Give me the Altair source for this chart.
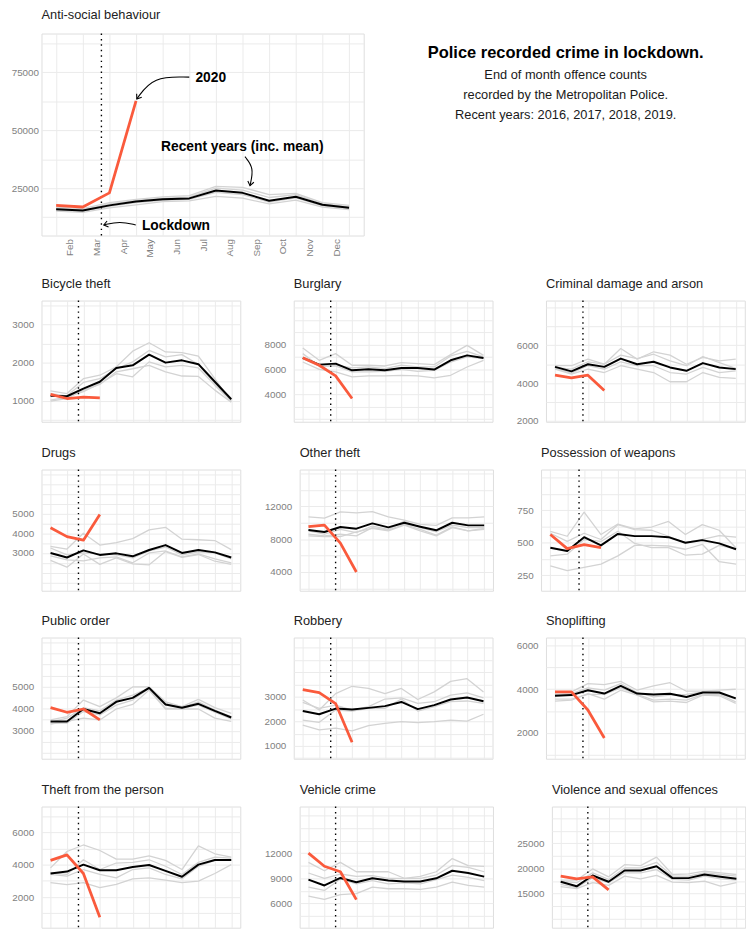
import altair as alt
import pandas as pd
import numpy as np

FONT = "Liberation Sans"
GRID = "#EBEBEB"
LABEL_COL = "#7F7F7F"

MONTHS = ["Feb", "Mar", "Apr", "May", "Jun", "Jul", "Aug", "Sep", "Oct", "Nov", "Dec"]
YEARS = ["2016", "2017", "2018", "2019"]
LOCKDOWN = 1.7  # 23 March, between end-of-Feb and end-of-Mar points

TITLE_LINES = ["Police recorded crime in lockdown.",
               "End of month offence counts",
               "recorded by the Metropolitan Police.",
               "Recent years: 2016, 2017, 2018, 2019."]

# ---------------- data (end-of-month counts, Jan..Dec) ----------------
asb_2020 = [17600, 16900, 23000, 62700]
asb_mean = [15900, 15400, 17600, 19300, 20200, 20600, 24000, 23000, 19600, 21300, 17900, 16600]
asb_recent = [
    [16800, 16200, 18800, 20200, 21300, 21800, 25800, 25400, 22200, 22800, 18800, 17600],
    [16300, 15700, 18200, 19800, 20600, 21200, 25000, 24200, 21000, 22200, 18300, 17000],
    [15500, 15000, 17200, 18800, 19800, 20200, 23200, 22200, 19000, 20800, 17400, 16200],
    [15100, 14600, 16500, 17800, 19200, 19500, 21500, 20700, 18200, 19900, 16800, 15800]]

bic_2020 = [1170, 1060, 1100, 1080]
bic_mean = [1130, 1120, 1320, 1500, 1860, 1930, 2210, 2000, 2060, 1960, 1500, 1040]
bic_recent = [
    [1260, 1190, 1580, 1670, 1890, 2300, 2520, 2280, 2260, 2170, 1580, 970],
    [1190, 1130, 1480, 1580, 1840, 2020, 2320, 2150, 2210, 1950, 1450, 1020],
    [1020, 1100, 1240, 1450, 1710, 1630, 2020, 1890, 1930, 1860, 1410, 990],
    [990, 1060, 1280, 1430, 1760, 1840, 1930, 1760, 1650, 1640, 1280, 960]]

bur_2020 = [6950, 6340, 5480, 3650]
bur_mean = [6930, 6390, 6470, 5930, 6010, 5930, 6120, 6120, 5990, 6740, 7140, 6930]
bur_recent = [
    [7730, 6740, 7280, 6340, 6340, 6280, 6550, 6470, 6390, 7200, 7950, 7140],
    [7280, 6280, 6340, 6120, 6200, 6070, 6340, 6200, 6200, 7090, 7460, 7010],
    [6870, 6280, 6280, 5800, 5800, 5850, 6010, 5850, 5930, 6600, 7010, 6870],
    [6600, 6010, 5800, 5400, 5480, 5480, 5530, 5480, 5320, 5530, 6200, 6740]]

cda_2020 = [4420, 4280, 4420, 3600]
cda_mean = [4860, 4620, 5000, 4860, 5300, 5000, 5130, 4830, 4650, 5060, 4830, 4740]
cda_recent = [
    [4920, 4920, 5270, 5000, 5830, 5270, 5660, 5480, 5000, 5360, 5180, 5270],
    [4830, 4740, 5130, 5000, 5480, 5300, 5530, 5180, 4920, 5410, 5090, 4780],
    [4780, 4530, 4920, 4740, 5130, 4920, 4920, 4560, 4480, 4830, 4560, 4650],
    [4740, 4480, 4740, 4560, 4920, 4740, 4560, 4070, 4070, 4560, 4300, 4250]]

drg_2020 = [4280, 3830, 3650, 4950]
drg_mean = [3000, 2770, 3130, 2900, 2980, 2830, 3150, 3400, 3000, 3150, 3030, 2770]
drg_recent = [
    [3330, 3200, 4000, 3400, 3530, 3730, 4170, 4300, 3700, 3670, 3630, 3170],
    [3250, 2900, 3000, 2950, 2900, 2750, 3100, 3300, 2900, 3050, 3000, 2700],
    [2850, 2650, 2600, 2750, 2800, 2500, 3000, 3100, 2800, 2950, 2700, 2500],
    [2620, 2280, 2950, 2420, 2750, 2450, 2400, 3070, 2780, 2920, 2580, 2420]]

oth_2020 = [9520, 9720, 7520, 4000]
oth_mean = [9120, 8880, 9480, 9280, 9920, 9440, 10000, 9520, 9080, 10000, 9680, 9680]
oth_recent = [
    [10720, 10560, 11320, 11200, 11360, 10720, 10320, 9800, 9680, 10600, 10600, 10720],
    [9000, 8600, 9200, 8800, 9600, 9200, 10200, 9400, 8900, 9700, 9400, 9400],
    [8600, 8400, 8600, 8400, 9400, 9100, 9800, 9200, 8500, 9500, 9000, 9300],
    [8400, 8300, 8300, 8900, 9300, 9000, 9700, 9000, 8400, 9400, 9000, 9200]]

wpn_2020 = [563, 455, 485, 462]
wpn_mean = [462, 437, 543, 480, 568, 551, 551, 543, 500, 520, 495, 450]
wpn_recent = [
    [588, 550, 735, 563, 644, 606, 621, 664, 563, 639, 596, 460],
    [573, 510, 573, 525, 639, 601, 596, 550, 500, 525, 555, 543],
    [399, 412, 525, 510, 588, 495, 462, 462, 404, 412, 480, 450],
    [323, 285, 311, 336, 399, 480, 480, 475, 450, 488, 354, 336]]

pub_2020 = [4045, 3836, 3985, 3493]
pub_mean = [3420, 3420, 3985, 3790, 4310, 4490, 4940, 4190, 4045, 4220, 3900, 3600]
pub_recent = [
    [3490, 3640, 4390, 4090, 4490, 4985, 4985, 4310, 4090, 4420, 4045, 3790],
    [3390, 3570, 4045, 3900, 4390, 4610, 4940, 4240, 4045, 4310, 3940, 3640],
    [3340, 3340, 3870, 3720, 4160, 4390, 4910, 4015, 4015, 4160, 3840, 3540],
    [3300, 3420, 3570, 3490, 3985, 4190, 4840, 3985, 3985, 3985, 3570, 3420]]

rob_2020 = [3295, 3174, 2725, 1148]
rob_mean = [2420, 2290, 2520, 2480, 2550, 2620, 2790, 2500, 2660, 2890, 2970, 2820]
rob_recent = [
    [2870, 2460, 3130, 3430, 3340, 3130, 3340, 2890, 3200, 3630, 3740, 3200],
    [2770, 2530, 2660, 2460, 2600, 2910, 2960, 2730, 2800, 3070, 3160, 2960],
    [2050, 1960, 2460, 2420, 2530, 2530, 2910, 2420, 2600, 2800, 2830, 2730],
    [1850, 1650, 1720, 1610, 1830, 1920, 1990, 1950, 1990, 2050, 2010, 2290]]

shp_2020 = [3880, 3880, 3045, 1760]
shp_mean = [3700, 3730, 3955, 3800, 4150, 3800, 3760, 3790, 3640, 3850, 3850, 3580]
shp_recent = [
    [3850, 3880, 4260, 4210, 4360, 3955, 4150, 4300, 3910, 3910, 3955, 4000],
    [3760, 3800, 4060, 3955, 4260, 3850, 3650, 3730, 3760, 3880, 3800, 3545],
    [3545, 3545, 3760, 3760, 4060, 3760, 3500, 3545, 3500, 3760, 3760, 3420],
    [3455, 3500, 3800, 3545, 3955, 3730, 3420, 3455, 3390, 3730, 3700, 3350]]

tfp_2020 = [4260, 4600, 3455, 770]
tfp_mean = [3455, 3576, 4000, 3657, 3657, 3859, 3980, 3616, 3253, 4000, 4283, 4283]
tfp_recent = [
    [3800, 4810, 5210, 4870, 4340, 4340, 4545, 4260, 3700, 5150, 4670, 4465],
    [3495, 3395, 4300, 3700, 4100, 4140, 4300, 3900, 3395, 4140, 4465, 4400],
    [3395, 3290, 3700, 3395, 3190, 3700, 3800, 3395, 3130, 3900, 4260, 4260],
    [2890, 2770, 2890, 2590, 2790, 3130, 3190, 3050, 2890, 2990, 3455, 4000]]

veh_2020 = [12000, 10430, 9780, 6450]
veh_mean = [8840, 8140, 9040, 8530, 9000, 8730, 8610, 8610, 9000, 9900, 9630, 9200]
veh_recent = [
    [10900, 9900, 10900, 9780, 9780, 9780, 9000, 9240, 9780, 11350, 10510, 10430],
    [9630, 9000, 9510, 9240, 9310, 9000, 9000, 9000, 9390, 10510, 10310, 9780],
    [7940, 7550, 8920, 8330, 8730, 8330, 8450, 8330, 8840, 9390, 9120, 8730],
    [6880, 6490, 7040, 7160, 7940, 7750, 7750, 7670, 7940, 8530, 8140, 7940]]

vio_2020 = [18460, 17940, 18330, 15720]
vio_mean = [17350, 16440, 18600, 17350, 19580, 19580, 20430, 18070, 18070, 18790, 18330, 17940]
vio_recent = [
    [17680, 17680, 19900, 18330, 20750, 20560, 22260, 18790, 18920, 19440, 19120, 18790],
    [17480, 17160, 19120, 17810, 20100, 20100, 21210, 18460, 18460, 19120, 18790, 18460],
    [16830, 16180, 18140, 17160, 19120, 19120, 19770, 17810, 17680, 18460, 17940, 17680],
    [16370, 15980, 17160, 16630, 18460, 17940, 18600, 17290, 17160, 17480, 16500, 17160]]

# panel: title, recent, mean, 2020, y-domain, labelled breaks, grid step
PANELS = [
    ("Bicycle theft", bic_recent, bic_mean, bic_2020, [452, 3626], [1000, 2000, 3000], 500),
    ("Burglary", bur_recent, bur_mean, bur_2020, [1772, 11570], [4000, 6000, 8000], 1000),
    ("Criminal damage and arson", cda_recent, cda_mean, cda_2020, [1947, 8379], [2000, 4000, 6000], 1000),
    ("Drugs", drg_recent, drg_mean, drg_2020, [1083, 7233], [3000, 4000, 5000], 500),
    ("Other theft", oth_recent, oth_mean, oth_2020, [1720, 16480], [4000, 8000, 12000], 2000),
    ("Possession of weapons", wpn_recent, wpn_mean, wpn_2020, [131, 1063], [250, 500, 750], 125),
    ("Public order", pub_recent, pub_mean, pub_2020, [1731, 7224], [3000, 4000, 5000], 500),
    ("Robbery", rob_recent, rob_mean, rob_2020, [477, 5416], [1000, 2000, 3000], 500),
    ("Shoplifting", shp_recent, shp_mean, shp_2020, [803, 6379], [2000, 4000, 6000], 1000),
    ("Theft from the person", tfp_recent, tfp_mean, tfp_2020, [121, 7576], [2000, 4000, 6000], 1000),
    ("Vehicle crime", veh_recent, veh_mean, veh_2020, [3098, 17569], [6000, 9000, 12000], 1500),
    ("Violence and sexual offences", vio_recent, vio_mean, vio_2020, [8203, 32320], [15000, 20000, 25000], 2500),
]

# annotations on the anti-social behaviour panel (data coordinates)
ann_text = ["2020", "Recent years (inc. mean)", "Lockdown"]
ann_m = [5.23, 6.99, 3.22]
ann_v = [72700, 42700, 8700]
ann_align = ["left", "center", "left"]
arrow_m = [[5.0, 3.64, 3.03], [7.09, 7.43, 7.28], [2.99, 2.39, 1.79]]
arrow_v = [[72900, 73300, 63500], [38600, 33800, 26100], [9150, 10800, 9150]]
arrow_angle = [215, 192, 256]


def build_df(recent, mean, y2020):
    rows = []
    for yr, vals in zip(YEARS, recent):
        for i, v in enumerate(vals):
            rows.append({"m": i, "v": v, "s": yr, "k": "recent"})
    for i, v in enumerate(mean):
        rows.append({"m": i, "v": v, "s": "mean", "k": "mean"})
    for i, v in enumerate(y2020):
        rows.append({"m": i, "v": v, "s": "2020", "k": "2020"})
    return pd.DataFrame(rows)


def grid_values(domain, step):
    start = np.ceil(domain[0] / step) * step
    return [float(v) for v in np.arange(start, domain[1] + 1e-9, step)]


MONTH_EXPR = "[" + ",".join("'%s'" % m for m in MONTHS) + ",''][datum.value]"


def panel(title, recent, mean, y2020, domain, majors, step, width, height, big=False):
    df = build_df(recent, mean, y2020)
    xs = alt.Scale(domain=[-0.55, 11.55], nice=False, zero=False)
    ys = alt.Scale(domain=domain, nice=False, zero=False)
    majors_js = "[" + ",".join(str(m) for m in majors) + "]"
    yaxis = alt.Axis(values=grid_values(domain, step),
                     labelExpr="indexof(%s, datum.value) >= 0 ? format(datum.value, 'd') : ''" % majors_js,
                     title=None, ticks=False, tickSize=0, domain=False,
                     labelPadding=3 if big else 8,
                     labelFont=FONT, labelFontSize=10, labelColor=LABEL_COL,
                     gridColor=GRID, gridWidth=1, labelOverlap=False, labelFlush=False)
    if big:
        xaxis = alt.Axis(values=list(range(12)), labelExpr=MONTH_EXPR, labelAngle=270,
                         labelOffset=14, labelPadding=3, ticks=False, tickSize=0, domain=False,
                         title=None, labelFont=FONT, labelFontSize=10, labelColor=LABEL_COL,
                         gridColor=GRID, gridWidth=1, labelOverlap=False, labelFlush=False)
    else:
        xaxis = alt.Axis(values=list(range(12)), labels=False, ticks=False, tickSize=0,
                         domain=False, title=None, gridColor=GRID, gridWidth=1,
                         minExtent=0, maxExtent=0)
    X = alt.X("m:Q", scale=xs, axis=xaxis)
    Y = alt.Y("v:Q", scale=ys, axis=yaxis)
    base = alt.Chart(df)
    grey = base.transform_filter("datum.k == 'recent'").mark_line(
        color="#D3D3D3", strokeWidth=1.3, strokeJoin="round").encode(x=X, y=Y, detail="s:N")
    rule = alt.Chart(pd.DataFrame({"m": [LOCKDOWN]})).mark_rule(
        color="black", strokeWidth=1.4, strokeDash=[1.5, 4]).encode(x=X)
    mline = base.transform_filter("datum.k == 'mean'").mark_line(
        color="black", strokeWidth=2.0, strokeJoin="round").encode(x=X, y=Y)
    red = base.transform_filter("datum.k == '2020'").mark_line(
        color="#FA5A3C", strokeWidth=2.8, strokeJoin="round").encode(x=X, y=Y)
    layers = [grey, rule, mline, red]
    if big:
        tdf = pd.DataFrame({"m": ann_m, "v": ann_v, "t": ann_text, "a": ann_align})
        for al in ["left", "center"]:
            layers.append(alt.Chart(tdf[tdf.a == al]).mark_text(
                font=FONT, fontSize=14, fontWeight="bold", color="black", align=al,
                baseline="middle").encode(x=X, y=Y, text="t:N"))
        arows = []
        for j, (ms, vs) in enumerate(zip(arrow_m, arrow_v)):
            for o, (mm, vv) in enumerate(zip(ms, vs)):
                arows.append({"m": mm, "v": vv, "a": j, "o": o})
        adf = pd.DataFrame(arows)
        layers.append(alt.Chart(adf).mark_line(
            color="black", strokeWidth=1.1, interpolate="basis").encode(
            x=X, y=Y, detail="a:N", order="o:Q"))
        hdf = pd.DataFrame({"m": [ms[-1] for ms in arrow_m], "v": [vs[-1] for vs in arrow_v],
                            "ang": arrow_angle})
        layers.append(alt.Chart(hdf).mark_point(
            shape="M -0.75 1 L 0 0 L 0.75 1", filled=False, color="black",
            strokeWidth=1.1, size=70, opacity=1).encode(
            x=X, y=Y, angle=alt.Angle("ang:Q", scale=None)))
        for i, line in enumerate(TITLE_LINES):
            ypos = [20, 42, 62.5, 83][i]
            layers.append(alt.Chart(pd.DataFrame({"t": [line]})).mark_text(
                font=FONT, fontSize=16.7 if i == 0 else 13,
                fontWeight="bold" if i == 0 else "normal",
                color="black" if i == 0 else "#1A1A1A", align="center", baseline="middle").encode(
                x=alt.value(532), y=alt.value(ypos), text="t:N"))
    return alt.layer(*layers).properties(
        width=width, height=height,
        title=alt.TitleParams(text=title, anchor="start", frame="group", font=FONT, fontSize=13,
                              fontWeight="normal", color="#222222", offset=11 if big else 9))


top = panel("Anti-social behaviour", asb_recent, asb_mean, asb_2020, [4600, 91700],
            [25000, 50000, 75000], 12500, 327, 205, big=True)

rows = []
for r in range(4):
    cells = []
    for c in range(3):
        t, rec, mn, y20, dom, maj, st = PANELS[r * 3 + c]
        ndig = len(str(max(maj)))
        w = 224 - 5.56 * ndig
        cells.append(panel(t, rec, mn, y20, dom, maj, st, w, 123))
    rows.append(alt.hconcat(*cells, spacing=22))

chart = alt.vconcat(top, alt.vconcat(*rows, spacing=19.5), spacing=19).properties(
    padding={"left": 2, "top": -7, "right": 0, "bottom": 0}
).configure_view(stroke="#858585", strokeWidth=1.2).configure(background="white")

chart.save("out.html", embed_options={"renderer": "svg", "actions": False})
